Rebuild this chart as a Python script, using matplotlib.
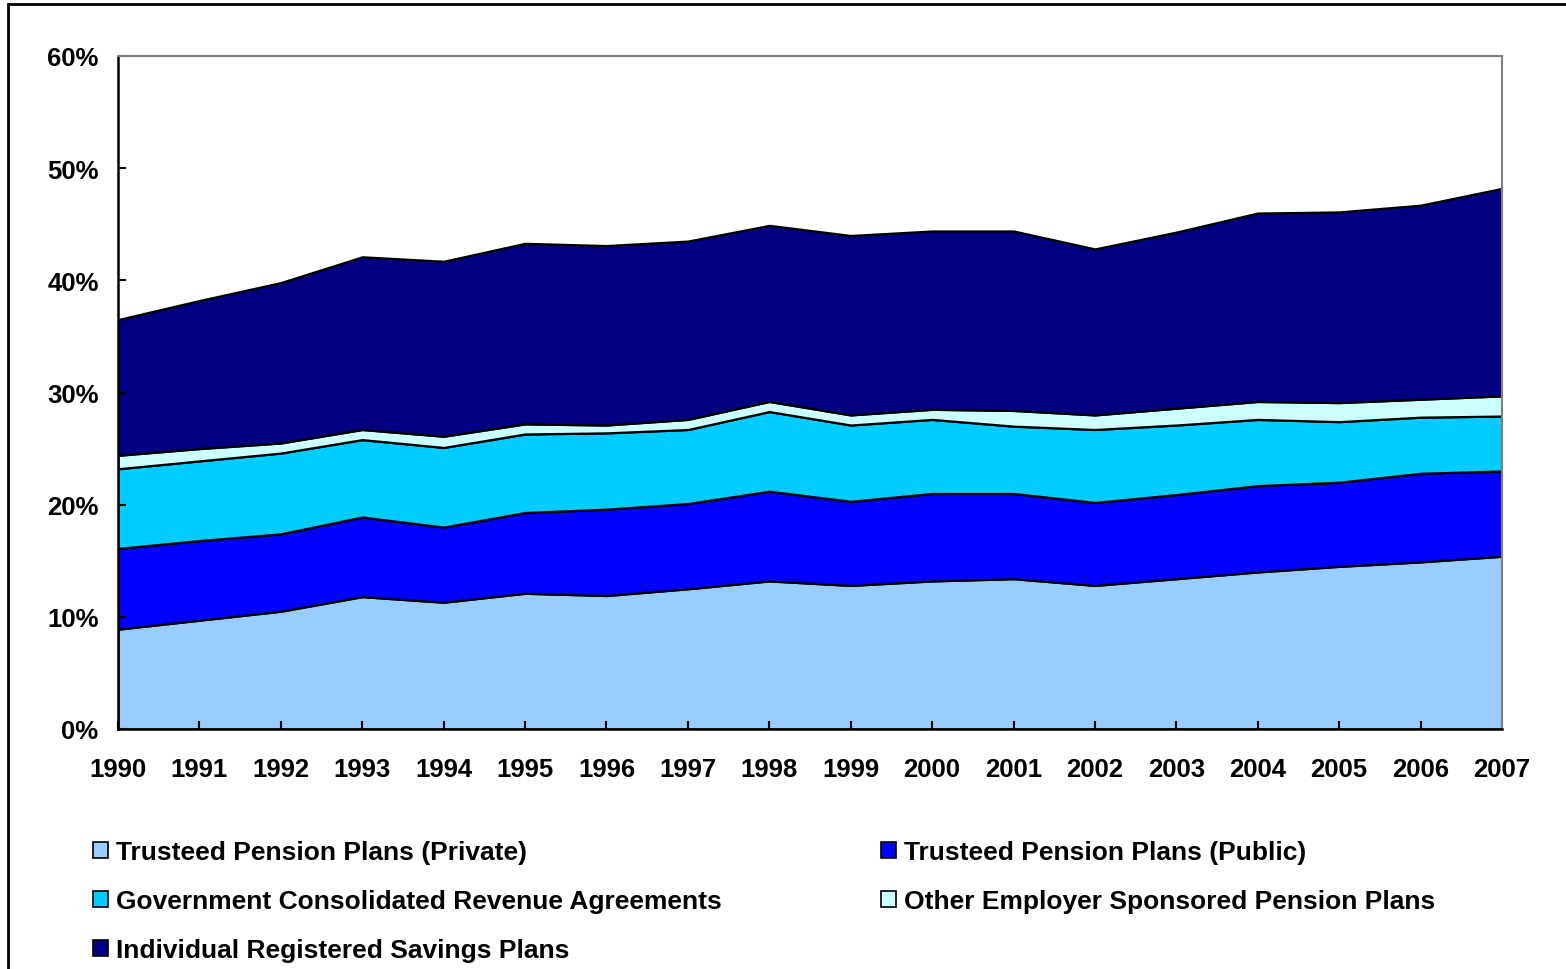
import matplotlib
matplotlib.use("Agg")
import matplotlib.pyplot as plt
from matplotlib.patches import Rectangle
from matplotlib.ticker import FuncFormatter

plt.rcParams['font.family'] = ['Liberation Sans', 'DejaVu Sans']

years = list(range(1990, 2008))

# shares, percent (stacked bottom to top)
private = [8.9, 9.7, 10.5, 11.8, 11.3, 12.1, 11.9, 12.5, 13.2, 12.8, 13.2, 13.4, 12.8, 13.4, 14.0, 14.5, 14.9, 15.4]
public = [7.2, 7.1, 6.9, 7.1, 6.7, 7.2, 7.7, 7.6, 8.0, 7.5, 7.8, 7.6, 7.4, 7.5, 7.7, 7.5, 7.9, 7.6]
govt = [7.1, 7.1, 7.2, 6.9, 7.1, 7.0, 6.8, 6.6, 7.1, 6.8, 6.6, 6.0, 6.5, 6.2, 5.9, 5.4, 5.0, 4.9]
other = [1.2, 1.1, 0.9, 0.9, 1.0, 0.9, 0.7, 0.9, 0.9, 0.9, 0.9, 1.4, 1.3, 1.5, 1.6, 1.7, 1.6, 1.8]
individual = [12.1, 13.2, 14.3, 15.4, 15.6, 16.1, 16.0, 15.9, 15.7, 16.0, 15.9, 16.0, 14.8, 15.7, 16.8, 17.0, 17.3, 18.5]

labels = ['Trusteed Pension Plans (Private)',
          'Trusteed Pension Plans (Public)',
          'Government Consolidated Revenue Agreements',
          'Other Employer Sponsored Pension Plans',
          'Individual Registered Savings Plans']
colors = ['#99CCFF', '#0000FF', '#00CCFF', '#CCFFFF', '#000080']

fig = plt.figure(figsize=(15.66, 9.7), dpi=100)
ax = fig.add_axes([118/1566, 1 - 730/970, (1502 - 118)/1566, (730 - 57)/970])

polys = ax.stackplot(years, private, public, govt, other, individual,
                     colors=colors, labels=labels,
                     edgecolor='black', linewidth=1.6)

ax.set_xlim(1990, 2007)
ax.set_ylim(0, 60)
ax.set_xticks(years)
ax.set_yticks(range(0, 61, 10))
ax.yaxis.set_major_formatter(FuncFormatter(lambda v, p: '%d%%' % v))
ax.tick_params(direction='in', length=6, width=1.5, labelsize=18.5)
ax.tick_params(axis='x', pad=20)
ax.tick_params(axis='y', pad=14)
for lab in ax.get_xticklabels() + ax.get_yticklabels():
    lab.set_fontweight('bold')

for s in ['left', 'bottom']:
    ax.spines[s].set_linewidth(1.8)
    ax.spines[s].set_color('black')
for s in ['top', 'right']:
    ax.spines[s].set_linewidth(1.5)
    ax.spines[s].set_color('#808080')

# legend: column-wise fill gives the reference's row order
order = [0, 2, 4, 1, 3]
handles = [polys[i] for i in order]
leg = fig.legend(handles, [labels[i] for i in order], ncol=2,
                 loc='upper left', bbox_to_anchor=(80/1566, 1 - 828/970),
                 frameon=False, prop={'size': 19, 'weight': 'bold'},
                 handlelength=0.55, handleheight=0.55, handletextpad=0.3,
                 columnspacing=6.06, labelspacing=0.95, borderpad=0)
for h in leg.legend_handles:
    h.set_linewidth(1.2)

# outer frame
fig.patches.append(Rectangle((8/1566, -0.05), 1.1, 1 - 5/970 + 0.05,
                             transform=fig.transFigure, fill=False,
                             edgecolor='black', linewidth=2, clip_on=False))

fig.savefig('out.png', dpi=100)
